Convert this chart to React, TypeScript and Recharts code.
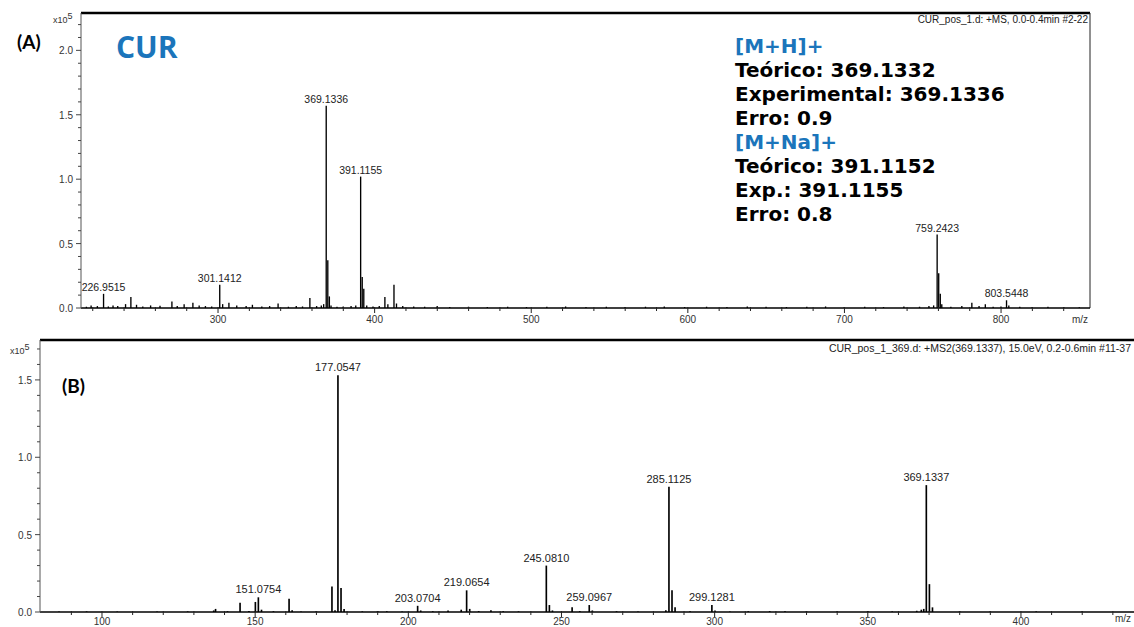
import React from "react";
import { BarChart, Bar, XAxis, YAxis, LabelList, ReferenceLine } from "recharts";

// (A) full scan, +MS — m/z and intensity (x10^5 counts)
const msMz = [
  216, 219, 223, 226.9515, 230, 233, 236, 241, 244.4, 248, 252, 257, 263, 270.6, 274, 278.4, 284, 288, 292, 296,
  301.1412, 303, 307, 312, 318, 322, 328, 333, 338.4, 345, 350, 354, 358.7, 363, 366, 367.5, 369.1336, 370.14,
  371.14, 372.2, 376, 380, 385, 388, 391.1155, 392.12, 393.12, 395, 399, 403, 406.6, 408.5, 412.4, 414, 418, 425,
  432, 440, 448, 460, 472, 485, 497, 510, 522, 535, 548, 560, 573, 585, 598, 612, 625, 638, 650, 663, 676, 688,
  700, 713, 725, 738, 748, 754, 757, 759.2423, 760.24, 761.24, 762.2, 768, 775, 781.4, 786, 790, 795, 800,
  803.5448, 805, 812, 820, 830, 840, 850,
];
const msInt = [
  0.01, 0.02, 0.015, 0.11, 0.012, 0.02, 0.015, 0.03, 0.085, 0.025, 0.012, 0.02, 0.018, 0.05, 0.015, 0.03, 0.04,
  0.02, 0.015, 0.012, 0.18, 0.03, 0.04, 0.02, 0.015, 0.025, 0.012, 0.015, 0.035, 0.01, 0.015, 0.012, 0.078, 0.015,
  0.02, 0.03, 1.57, 0.37, 0.09, 0.02, 0.01, 0.012, 0.015, 0.02, 1.02, 0.24, 0.15, 0.02, 0.012, 0.015, 0.085, 0.03,
  0.18, 0.035, 0.015, 0.012, 0.01, 0.015, 0.008, 0.01, 0.008, 0.01, 0.008, 0.01, 0.012, 0.008, 0.01, 0.008, 0.01,
  0.012, 0.008, 0.01, 0.008, 0.012, 0.01, 0.008, 0.01, 0.012, 0.008, 0.01, 0.008, 0.012, 0.01, 0.015, 0.02, 0.57,
  0.27, 0.11, 0.03, 0.01, 0.015, 0.04, 0.015, 0.03, 0.01, 0.012, 0.06, 0.02, 0.01, 0.008, 0.01, 0.008, 0.006,
];
const msLabeled = [226.9515, 301.1412, 369.1336, 391.1155, 759.2423, 803.5448];
const msXTicks = [
  220, 240, 260, 280, 300, 320, 340, 360, 380, 400, 420, 440, 460, 480, 500, 520, 540, 560, 580, 600, 620, 640,
  660, 680, 700, 720, 740, 760, 780, 800, 820, 840,
];
const msYTicks = [0, 0.1, 0.2, 0.3, 0.4, 0.5, 0.6, 0.7, 0.8, 0.9, 1.0, 1.1, 1.2, 1.3, 1.4, 1.5, 1.6, 1.7, 1.8, 1.9, 2.0, 2.1, 2.2];

// (B) MS2 of 369.1337
const ms2Mz = [
  86, 95, 105, 118, 128, 136.5, 137.1, 141, 145.1, 148, 150.1, 151.0754, 152.1, 156, 161.1, 162.1, 165, 170, 175.1,
  176.1, 177.0547, 178.06, 179.06, 185, 190, 193, 198, 203.0704, 204.07, 208, 213, 217.3, 219.0654, 220.07, 223,
  227, 231, 236, 245.081, 246.08, 247.08, 253.5, 256, 259.0967, 260.1, 268, 275, 284.1, 285.1125, 286.11, 287.11,
  292, 299.1281, 300.13, 305, 311, 318, 323, 330, 340, 350, 358, 366, 367.5, 368.3, 369.1337, 370.14, 371.14, 380,
  390, 405, 420,
];
const ms2Int = [
  0.003, 0.004, 0.003, 0.003, 0.004, 0.01, 0.02, 0.005, 0.06, 0.006, 0.065, 0.095, 0.015, 0.005, 0.085, 0.012,
  0.004, 0.005, 0.165, 0.012, 1.53, 0.155, 0.02, 0.004, 0.006, 0.005, 0.004, 0.04, 0.01, 0.005, 0.01, 0.015, 0.14,
  0.02, 0.006, 0.012, 0.005, 0.004, 0.3, 0.045, 0.01, 0.03, 0.006, 0.045, 0.01, 0.005, 0.004, 0.012, 0.81, 0.14,
  0.03, 0.005, 0.045, 0.01, 0.004, 0.005, 0.006, 0.005, 0.004, 0.004, 0.006, 0.004, 0.008, 0.015, 0.02, 0.82, 0.18,
  0.03, 0.004, 0.003, 0.004, 0.003,
];
const ms2Labeled = [151.0754, 177.0547, 203.0704, 219.0654, 245.081, 259.0967, 285.1125, 299.1281, 369.1337];
const ms2XTicks = [
  90, 100, 110, 120, 130, 140, 150, 160, 170, 180, 190, 200, 210, 220, 230, 240, 250, 260, 270, 280, 290, 300, 310,
  320, 330, 340, 350, 360, 370, 380, 390, 400, 410, 420, 430,
];
const ms2YTicks = [0, 0.1, 0.2, 0.3, 0.4, 0.5, 0.6, 0.7, 0.8, 0.9, 1.0, 1.1, 1.2, 1.3, 1.4, 1.5, 1.6, 1.7];

const BLUE = "#1b75bb";
const SMALL = "Liberation Sans, Arial, sans-serif";

function buildRows(mz: number[], ints: number[], labeled: number[]) {
  return mz.map((m, i) => ({
    mz: m,
    int: ints[i],
    label: labeled.includes(m) ? m.toFixed(4) : undefined,
  }));
}

const msRows = buildRows(msMz, msInt, msLabeled);
const ms2Rows = buildRows(ms2Mz, ms2Int, ms2Labeled);

const XTick = (props: any) => {
  const { x, y, payload, step, textDy = 15 } = props;
  const major = Math.abs(payload.value % step) < 1e-6;
  return (
    <g>
      <line x1={x} x2={x} y1={y - 1} y2={y + (major ? 5 : 3)} stroke="#222" strokeWidth={1} />
      {major && (
        <text x={x} y={y + textDy} textAnchor="middle" fontSize={10} fill="#333" fontFamily={SMALL}>
          {payload.value}
        </text>
      )}
    </g>
  );
};

const YTick = (props: any) => {
  const { x, y, payload } = props;
  const v = Math.round(payload.value * 10);
  const major = v % 5 === 0;
  return (
    <g>
      <line x1={x - (major ? 5 : 3)} x2={x} y1={y} y2={y} stroke="#444" strokeWidth={1} />
      {major && (
        <text x={x - 8} y={y + 4} textAnchor="end" fontSize={10} fill="#333" fontFamily={SMALL}>
          {(v / 10).toFixed(1)}
        </text>
      )}
    </g>
  );
};

const abs = (left: number, top: number, extra: React.CSSProperties = {}): React.CSSProperties => ({
  position: "absolute",
  left,
  top,
  whiteSpace: "nowrap",
  ...extra,
});

function Exponent({ left, top }: { left: number; top: number }) {
  return (
    <div style={abs(left, top, { fontFamily: SMALL, fontSize: 9, color: "#333", lineHeight: "10px" })}>
      x10<sup style={{ fontSize: 9, verticalAlign: "4px" }}>5</sup>
    </div>
  );
}

export default function App() {
  const info = [
    { t: "[M+H]+", c: BLUE },
    { t: "Teórico: 369.1332", c: "#000" },
    { t: "Experimental: 369.1336", c: "#000" },
    { t: "Erro: 0.9", c: "#000" },
    { t: "[M+Na]+", c: BLUE },
    { t: "Teórico: 391.1152", c: "#000" },
    { t: "Exp.: 391.1155", c: "#000" },
    { t: "Erro: 0.8", c: "#000" },
  ];

  return (
    <div style={{ position: "absolute", left: 0, top: 0, width: 1134, height: 627, background: "#fff", overflow: "hidden" }}>
      {/* (A) full scan */}
      <div style={abs(0, 0)}>
        <BarChart
          width={1134}
          height={330}
          data={msRows}
          margin={{ top: 13, right: 44, left: 0, bottom: 0 }}
          style={{ fontFamily: SMALL }}
        >
          <XAxis
            dataKey="mz"
            type="number"
            domain={[212.5, 856.8]}
            allowDataOverflow
            ticks={msXTicks}
            interval={0}
            height={22}
            tickSize={0}
            tickMargin={0}
            tickLine={false}
            axisLine={{ stroke: "#000", strokeWidth: 1.5 }}
            tick={<XTick step={100} />}
          />
          <YAxis
            type="number"
            domain={[0, 2.29]}
            allowDataOverflow
            ticks={msYTicks}
            interval={0}
            width={81}
            tickSize={0}
            tickMargin={0}
            tickLine={false}
            axisLine={{ stroke: "#555" }}
            tick={<YTick />}
          />
          <ReferenceLine y={2.29} stroke="#000" strokeWidth={2.5} />
          <ReferenceLine x={856.8} stroke="#222" strokeWidth={1} />
          <Bar dataKey="int" fill="#000" barSize={2} isAnimationActive={false}>
            <LabelList dataKey="label" position="top" offset={3} fontSize={10.5} fill="#222" fontFamily={SMALL} />
          </Bar>
        </BarChart>
      </div>

      {/* (B) MS2 */}
      <div style={abs(0, 330)}>
        <BarChart
          width={1134}
          height={297}
          data={ms2Rows}
          margin={{ top: 10, right: 0, left: 0, bottom: 0 }}
          style={{ fontFamily: SMALL }}
        >
          <XAxis
            dataKey="mz"
            type="number"
            domain={[79.76, 436.9]}
            allowDataOverflow
            ticks={ms2XTicks}
            interval={0}
            height={15}
            tickSize={0}
            tickMargin={0}
            tickLine={false}
            axisLine={{ stroke: "#000", strokeWidth: 1.5 }}
            tick={<XTick step={50} textDy={13} />}
          />
          <YAxis
            type="number"
            domain={[0, 1.758]}
            allowDataOverflow
            ticks={ms2YTicks}
            interval={0}
            width={40}
            tickSize={0}
            tickMargin={0}
            tickLine={false}
            axisLine={{ stroke: "#555" }}
            tick={<YTick />}
          />
          <ReferenceLine y={1.758} stroke="#000" strokeWidth={2.5} />
          <Bar dataKey="int" fill="#000" barSize={2} isAnimationActive={false}>
            <LabelList dataKey="label" position="top" offset={4} fontSize={11} fill="#222" fontFamily={SMALL} />
          </Bar>
        </BarChart>
      </div>

      {/* annotations */}
      <Exponent left={53} top={11} />
      <Exponent left={10} top={342} />
      <div style={abs(17, 31, { fontFamily: "Lato, 'Open Sans', sans-serif", fontWeight: 700, fontSize: 19, lineHeight: "22px" })}>(A)</div>
      <div style={abs(62, 375, { fontFamily: "Lato, 'Open Sans', sans-serif", fontWeight: 700, fontSize: 19, lineHeight: "22px" })}>(B)</div>
      <div style={abs(116, 28, { fontFamily: "'Open Sans', sans-serif", fontWeight: 700, fontSize: 30, lineHeight: "38px", color: BLUE })}>CUR</div>
      <div style={abs(0, 14, { width: 1088, textAlign: "right", fontFamily: SMALL, fontSize: 10, color: "#222" })}>
        CUR_pos_1.d: +MS, 0.0-0.4min #2-22
      </div>
      <div style={abs(0, 342, { width: 1131, textAlign: "right", fontFamily: SMALL, fontSize: 10.5, color: "#222" })}>
        CUR_pos_1_369.d: +MS2(369.1337), 15.0eV, 0.2-0.6min #11-37
      </div>
      <div style={abs(1072, 314, { fontFamily: SMALL, fontSize: 10, color: "#333" })}>m/z</div>
      <div style={abs(1115, 613, { fontFamily: SMALL, fontSize: 10, color: "#333" })}>m/z</div>
      <div style={abs(735, 34, { fontFamily: "'DejaVu Sans', sans-serif", fontWeight: 700, fontSize: 20, lineHeight: "24px" })}>
        {info.map((l, i) => (
          <div key={i} style={{ color: l.c }}>
            {l.t}
          </div>
        ))}
      </div>
    </div>
  );
}
